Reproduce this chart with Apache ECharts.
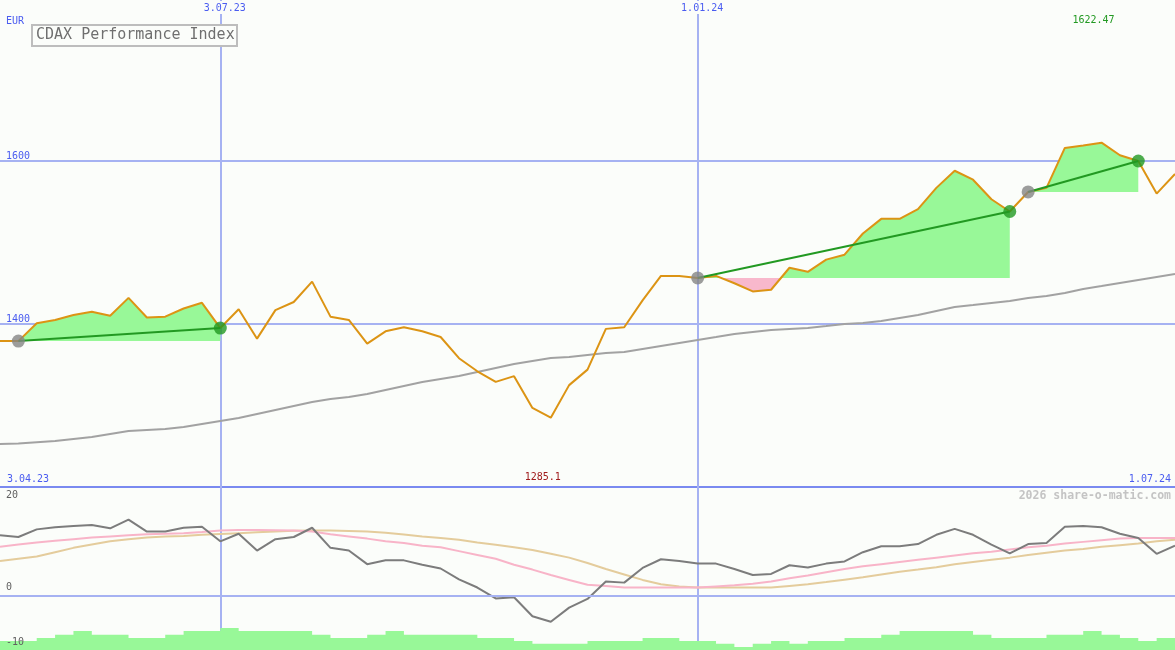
<!DOCTYPE html>
<html><head><meta charset="utf-8">
<script src="https://cdn.jsdelivr.net/npm/echarts@6/dist/echarts.min.js"></script>
<style>html,body{margin:0;padding:0;background:#fbfdfa}#c{width:1175px;height:650px}</style>
</head><body><div id="c"></div>
<script>
// ---- data ----
const startDate = '2023-04-10';
const topTickIdx = [12, 38];
const rangeLabels = ['3.04.23', '1.07.24'];
const mainTicks = [1400, 1600];
const lowerTicksLeft = [-10, 0];
const lowerTicksTop = [20];
const price = [1379,1379,1401,1405,1411,1415,1410,1432,1408,1409,
  1419,1426,1395,1418,1382,1417,1427,1452,1409,1405,
  1376,1391,1396,1391,1384,1358,1342,1329,1336,1297,
  1285.1,1325,1344,1394,1396,1429,1459,1459,1456.5,1459,
  1450,1440,1442,1469,1464,1479,1485,1511,1529,1529,
  1541,1567,1588,1577,1553,1538,1562,1567,1616,1619,
  1622.47,1607,1600,1560,1584];
const ma = [1252.8,1253.4,1255,1256.4,1258.9,1261.3,1265,1268.7,1270,1271.2,
  1273.6,1277.3,1281,1284.7,1289.6,1294.5,1299.4,1304.3,1308,1310.4,
  1314.1,1319,1323.9,1328.8,1332.5,1336.2,1341.1,1346,1350.9,1354.6,
  1358.3,1359.5,1362,1364.4,1365.6,1369.3,1373,1376.7,1380.4,1384,
  1387.7,1390.2,1392.6,1393.9,1395.1,1397.5,1400,1401.2,1403.7,1407.4,
  1411,1416,1420.9,1423.3,1425.8,1428.2,1431.9,1434.4,1438,1443,
  1446.6,1450.3,1454,1457.7,1461.3];
const segStart = [1, 38, 56];
const segEnd = [12, 55, 62];
const mom = [11.1,10.8,12.2,12.6,12.8,13.0,12.4,14.0,11.8,11.8,
  12.5,12.7,10.0,11.4,8.3,10.4,10.8,12.5,8.8,8.3,
  5.8,6.5,6.5,5.7,5.0,3.0,1.5,-0.5,-0.3,-3.8,
  -4.8,-2.2,-0.6,2.6,2.4,5.1,6.7,6.4,5.9,5.9,
  4.9,3.8,4.0,5.6,5.2,5.9,6.3,8.0,9.1,9.1,
  9.5,11.2,12.3,11.2,9.4,7.8,9.5,9.7,12.7,12.8,
  12.6,11.4,10.6,7.7,9.2];
const pinkLine = [9.0,9.4,9.8,10.1,10.4,10.7,10.9,11.1,11.3,11.4,
  11.5,11.7,12.0,12.1,12.1,12.05,12.0,11.8,11.3,10.9,
  10.5,10.0,9.7,9.2,8.9,8.2,7.5,6.8,5.7,4.8,
  3.8,2.9,2.0,1.8,1.5,1.5,1.5,1.5,1.5,1.7,
  1.9,2.2,2.6,3.2,3.7,4.3,4.9,5.4,5.8,6.2,
  6.6,7.0,7.4,7.8,8.1,8.5,8.9,9.2,9.6,9.9,
  10.2,10.5,10.6,10.6,10.6];
const tanLine = [6.4,6.8,7.2,8.0,8.8,9.4,10.0,10.4,10.7,10.9,
  11.0,11.2,11.35,11.5,11.65,11.8,11.95,12.0,12.0,11.9,
  11.8,11.6,11.25,10.9,10.6,10.3,9.8,9.35,8.9,8.4,
  7.7,7.0,6.0,4.9,3.9,2.9,2.1,1.7,1.5,1.5,
  1.5,1.5,1.5,1.8,2.1,2.5,2.95,3.4,3.9,4.4,
  4.8,5.25,5.8,6.2,6.6,7.0,7.5,7.9,8.3,8.6,
  9.0,9.3,9.6,10.0,10.3];
const vol = [-8.35,-8.35,-7.8,-7.2,-6.5,-7.2,-7.2,-7.8,-7.8,-7.2,
  -6.5,-6.5,-5.95,-6.5,-6.5,-6.5,-6.5,-7.2,-7.8,-7.8,
  -7.2,-6.5,-7.2,-7.2,-7.2,-7.2,-7.8,-7.8,-8.35,-8.85,
  -8.85,-8.85,-8.35,-8.35,-8.35,-7.8,-7.8,-8.35,-8.35,-8.85,
  -9.45,-8.85,-8.35,-8.85,-8.35,-8.35,-7.8,-7.8,-7.2,-6.5,
  -6.5,-6.5,-6.5,-7.2,-7.8,-7.8,-7.8,-7.2,-7.2,-6.5,
  -7.2,-7.8,-8.35,-7.8,-7.8];

// weekly categories
const weeks = [];
(function(){
  const d0 = new Date(startDate + 'T00:00:00Z');
  for (let i = 0; i < price.length; i++) {
    const d = new Date(d0.getTime() + i * 7 * 86400000);
    weeks.push(d.getUTCDate() + '.' + String(d.getUTCMonth()+1).padStart(2,'0') + '.' + String(d.getUTCFullYear()%100).padStart(2,'0'));
  }
})();

// ---- style ----
const BG = '#fbfdfa', LIGHT = '#a6b2f2', DARK = '#7a8af0', BLUE = '#4a5cf0';
const F = '"DejaVu Sans Mono", monospace';
const NONE = 'rgba(0,0,0,0)';
const isTop = (i) => topTickIdx.indexOf(i) >= 0;

const chart = echarts.init(document.getElementById('c'));

const seriesList = [];
// performance fills
seriesList.push({
  type: 'custom', xAxisIndex: 0, yAxisIndex: 0, z: 1, silent: true,
  data: segStart.map((s, k) => [s, segEnd[k]]),
  renderItem: function (params, api) {
    const k = params.dataIndex, s = segStart[k], e = segEnd[k];
    const base = price[s];
    const P = (i, v) => api.coord([i, v]);
    const up = [], lo = [];
    for (let i = s; i <= e; i++) {
      up.push(P(i, Math.max(price[i], base)));
      lo.push(P(i, Math.min(price[i], base)));
      if (i < e) {
        const a = price[i] - base, b = price[i+1] - base;
        if (a * b < 0) {
          const t = a / (a - b);
          const p0 = P(i, base), p1 = P(i+1, base);
          const c = [p0[0] + (p1[0]-p0[0]) * t, p0[1]];
          up.push(c); lo.push(c);
        }
      }
    }
    const b0 = P(s, base), b1 = P(e, base);
    return { type: 'group', children: [
      { type: 'polygon', shape: { points: [b0].concat(up, [b1]) }, style: { fill: '#98f898' } },
      { type: 'polygon', shape: { points: [b0].concat(lo, [b1]) }, style: { fill: '#f8b8cc' } }
    ]};
  }
});
seriesList.push({ type: 'line', xAxisIndex: 0, yAxisIndex: 0, z: 2, data: ma, showSymbol: false, silent: true,
  lineStyle: { color: '#a2a2a2', width: 2 } });
seriesList.push({ type: 'line', xAxisIndex: 0, yAxisIndex: 0, z: 3, data: price, showSymbol: false, silent: true,
  lineStyle: { color: '#dc9414', width: 2 } });
segStart.forEach((s, k) => {
  const e = segEnd[k];
  seriesList.push({ type: 'line', xAxisIndex: 0, yAxisIndex: 0, z: 4, showSymbol: false, silent: true,
    data: [[s, price[s]], [e, price[e]]], lineStyle: { color: '#229922', width: 2 } });
});
seriesList.push({ type: 'scatter', xAxisIndex: 0, yAxisIndex: 0, z: 5, silent: true, symbolSize: 13,
  data: segStart.map(s => [s, price[s]]), itemStyle: { color: '#858585' } });
seriesList.push({ type: 'scatter', xAxisIndex: 0, yAxisIndex: 0, z: 6, silent: true, symbolSize: 13,
  data: segEnd.map(e => [e, price[e]]), itemStyle: { color: '#229922' } });
// lower panel
seriesList.push({ type: 'line', xAxisIndex: 2, yAxisIndex: 1, z: 3, data: vol, step: 'end', showSymbol: false, silent: true,
  lineStyle: { width: 0, color: '#98f898' }, areaStyle: { color: '#98f898', opacity: 1, origin: 'start' } });
seriesList.push({ type: 'line', xAxisIndex: 2, yAxisIndex: 1, z: 4, data: tanLine, showSymbol: false, silent: true,
  lineStyle: { color: '#e4cc9c', width: 2 } });
seriesList.push({ type: 'line', xAxisIndex: 2, yAxisIndex: 1, z: 5, data: pinkLine, showSymbol: false, silent: true,
  lineStyle: { color: '#f8b4c8', width: 2 } });
seriesList.push({ type: 'line', xAxisIndex: 2, yAxisIndex: 1, z: 6, data: mom, showSymbol: false, silent: true,
  lineStyle: { color: '#7c7c7c', width: 2 } });

const option = {
  backgroundColor: BG,
  animation: false,
  title: {
    text: 'CDAX Performance Index', left: 32, top: 25,
    padding: [3, 3, 3, 4], borderColor: '#bdbdbd', borderWidth: 2, backgroundColor: BG,
    textStyle: { fontFamily: F, fontSize: 15, fontWeight: 'normal', color: '#6f6f6f' }
  },
  grid: [
    { left: 0, right: 0, top: 0, height: 487, outerBoundsMode: 'none', containLabel: false },
    { left: 0, right: 0, top: 487, height: 163, outerBoundsMode: 'none', containLabel: false }
  ],
  xAxis: [
    { gridIndex: 0, type: 'category', data: weeks, boundaryGap: false, position: 'top',
      axisLine: { show: false }, axisTick: { show: false },
      axisLabel: { inside: true, interval: (i) => isTop(i), margin: 1, color: BLUE, fontFamily: F, fontSize: 10,
        backgroundColor: BG, padding: [2, 1, 1, 10] },
      splitLine: { show: true, interval: (i) => isTop(i), lineStyle: { color: LIGHT, width: 2 } } },
    { gridIndex: 0, type: 'category', data: weeks, boundaryGap: false, position: 'bottom',
      axisLine: { show: false }, axisTick: { show: false }, splitLine: { show: false },
      axisLabel: { inside: true, interval: (i) => i === 0 || i === weeks.length - 1,
        formatter: (v, i) => (i === 0 ? rangeLabels[0] : rangeLabels[1]),
        alignMinLabel: 'left', alignMaxLabel: 'right', margin: 3, padding: [0, 4, 0, 7],
        color: BLUE, fontFamily: F, fontSize: 10 } },
    { gridIndex: 1, type: 'category', data: weeks, boundaryGap: false, position: 'top',
      axisLine: { show: true, lineStyle: { color: DARK, width: 2 } }, axisTick: { show: false }, axisLabel: { show: false },
      splitLine: { show: true, interval: (i) => isTop(i), lineStyle: { color: LIGHT, width: 2 } } }
  ],
  yAxis: [
    { gridIndex: 0, type: 'value', min: 1200, max: 1797.5, interval: 200,
      axisLine: { show: false }, axisTick: { show: false },
      axisLabel: { inside: true, showMinLabel: false, showMaxLabel: false, verticalAlign: 'bottom', margin: 6,
        color: BLUE, fontFamily: F, fontSize: 10, formatter: (v) => (mainTicks.indexOf(v) >= 0 ? String(v) : '') },
      splitLine: { show: true, lineStyle: { color: [DARK, LIGHT, LIGHT, NONE], width: 2 } } },
    { gridIndex: 1, type: 'value', min: -10, max: 20, interval: 10, position: 'left', z: 10,
      axisLine: { show: false }, axisTick: { show: false },
      axisLabel: { inside: true, verticalAlign: 'bottom', margin: 6, padding: [0, 0, 3, 0], color: '#606060', fontFamily: F, fontSize: 10,
        formatter: (v) => (lowerTicksLeft.indexOf(v) >= 0 ? String(v) : '') },
      splitLine: { show: true, lineStyle: { color: [NONE, LIGHT, NONE, NONE], width: 2 } } },
    { gridIndex: 1, type: 'value', min: -10, max: 20, interval: 10, position: 'left', z: 10,
      axisLine: { show: false }, axisTick: { show: false }, splitLine: { show: false },
      axisLabel: { inside: true, verticalAlign: 'top', margin: 6, padding: [3, 0, 0, 0], color: '#606060', fontFamily: F, fontSize: 10,
        formatter: (v) => (lowerTicksTop.indexOf(v) >= 0 ? String(v) : '') } }
  ],
  series: seriesList
};
chart.setOption(option);

// min / max labels and other texts
let maxI = 0, minI = 0;
price.forEach((v, i) => { if (v > price[maxI]) maxI = i; if (v < price[minI]) minI = i; });
const xMax = chart.convertToPixel({ xAxisIndex: 0 }, weeks[maxI]);
const xMin = chart.convertToPixel({ xAxisIndex: 0 }, weeks[minI]);
chart.setOption({
  graphic: [
    { type: 'text', left: 6, top: 16, z: 100, style: { text: 'EUR', fill: BLUE, font: '10px ' + F } },
    { type: 'text', x: xMax - 8, y: 15, z: 100, style: { text: String(price[maxI]), fill: '#229922', font: '10px ' + F, textAlign: 'center' } },
    { type: 'text', x: xMin - 8, y: 472, z: 100, style: { text: String(price[minI]), fill: '#a01c1c', font: '10px ' + F, textAlign: 'center' } },
    { type: 'text', right: 4, top: 490, z: 100, style: { text: '2026 share-o-matic.com', fill: '#c4c4c4', font: 'bold 11.5px ' + F } }
  ]
});
</script>
</body></html>
